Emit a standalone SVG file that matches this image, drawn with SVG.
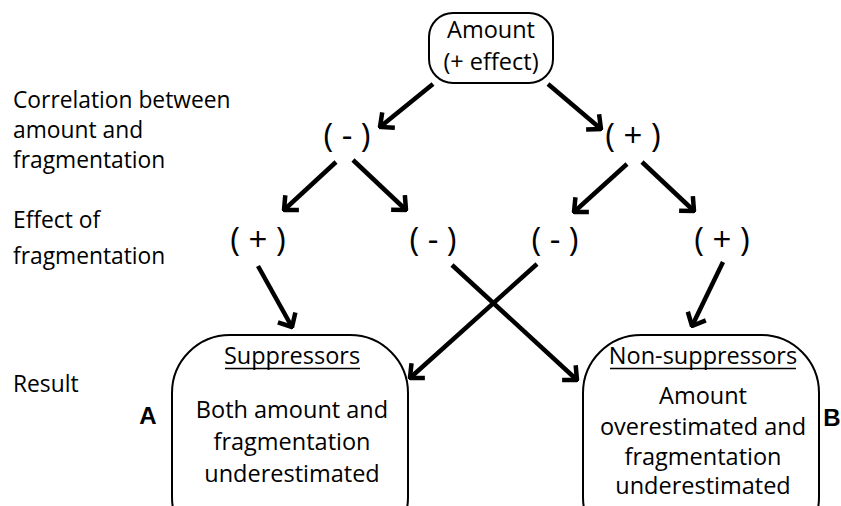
<svg xmlns="http://www.w3.org/2000/svg" width="841" height="506" viewBox="0 0 841 506">
<style>
text{font-family:"Open Sans","Liberation Sans",sans-serif;fill:#000}
.lbl{font-size:22.8px}
.box{font-size:23.5px;text-anchor:middle}
.sign{font-size:33px;text-anchor:middle}
.letter{font-family:"Liberation Sans",Arial,sans-serif;font-weight:bold;font-size:24px;text-anchor:middle}
.frame{fill:#fff;stroke:#000;stroke-width:2}
.arr{stroke:#000;stroke-width:4.5;fill:none;marker-end:url(#ah)}
.ul{stroke:#000;stroke-width:1.5}
</style>
<defs>
<marker id="ah" markerUnits="userSpaceOnUse" viewBox="-14 -12 16 24" refX="0" refY="0" markerWidth="16" markerHeight="24" orient="auto">
<path d="M-11,-10 L0,0 L-11,10" fill="none" stroke="#000" stroke-width="4.5"/>
</marker>
</defs>
<rect width="841" height="506" fill="#fff"/>
<g id="labels">
<text class="lbl" x="13" y="108">Correlation between</text>
<text class="lbl" x="13" y="138">amount and</text>
<text class="lbl" x="13" y="168">fragmentation</text>
<text class="lbl" x="13" y="228">Effect of</text>
<text class="lbl" x="13" y="264">fragmentation</text>
<text class="lbl" x="13" y="392">Result</text>
</g>
<g id="connectors">
<line class="arr" x1="433" y1="84" x2="380" y2="127"/>
<line class="arr" x1="548" y1="84" x2="601" y2="129"/>
<line class="arr" x1="336" y1="162" x2="284" y2="210"/>
<line class="arr" x1="353" y1="160" x2="406" y2="210"/>
<line class="arr" x1="627" y1="164" x2="574" y2="212"/>
<line class="arr" x1="642" y1="162" x2="694" y2="211"/>
<line class="arr" x1="258" y1="266" x2="292" y2="327"/>
<line class="arr" x1="723" y1="262" x2="692" y2="326"/>
<line class="arr" x1="452" y1="265" x2="577" y2="380"/>
<line class="arr" x1="537" y1="264" x2="410" y2="378"/>
</g>
<g id="amount">
<rect class="frame" x="429" y="13" width="124" height="70" rx="24"/>
<text class="box" x="491" y="38">Amount</text>
<text class="box" x="491" y="70">(+ effect)</text>
</g>
<g id="corr-neg"><text class="sign" x="347" y="147">( - )</text></g>
<g id="corr-pos"><text class="sign" x="633" y="147">( + )</text></g>
<g id="eff-pos-left"><text class="sign" x="258" y="251">( + )</text></g>
<g id="eff-neg-left"><text class="sign" x="433" y="251">( - )</text></g>
<g id="eff-neg-right"><text class="sign" x="555" y="251">( - )</text></g>
<g id="eff-pos-right"><text class="sign" x="722" y="251">( + )</text></g>
<g id="suppressors">
<rect class="frame" x="172" y="335" width="236" height="220" rx="58"/>
<text class="box" x="292" y="364">Suppressors</text>
<line class="ul" x1="225" y1="368.5" x2="360" y2="368.5"/>
<text class="box" x="292" y="418">Both amount and</text>
<text class="box" x="292" y="450">fragmentation</text>
<text class="box" x="292" y="482">underestimated</text>
</g>
<g id="non-suppressors">
<rect class="frame" x="583" y="335" width="236" height="220" rx="58"/>
<text class="box" x="703" y="364">Non-suppressors</text>
<line class="ul" x1="610" y1="368.5" x2="796" y2="368.5"/>
<text class="box" x="703" y="404">Amount</text>
<text class="box" x="703" y="435">overestimated and</text>
<text class="box" x="703" y="465">fragmentation</text>
<text class="box" x="703" y="494">underestimated</text>
</g>
<g id="letter-a"><text class="letter" x="148" y="424">A</text></g>
<g id="letter-b"><text class="letter" x="832" y="426">B</text></g>
</svg>
